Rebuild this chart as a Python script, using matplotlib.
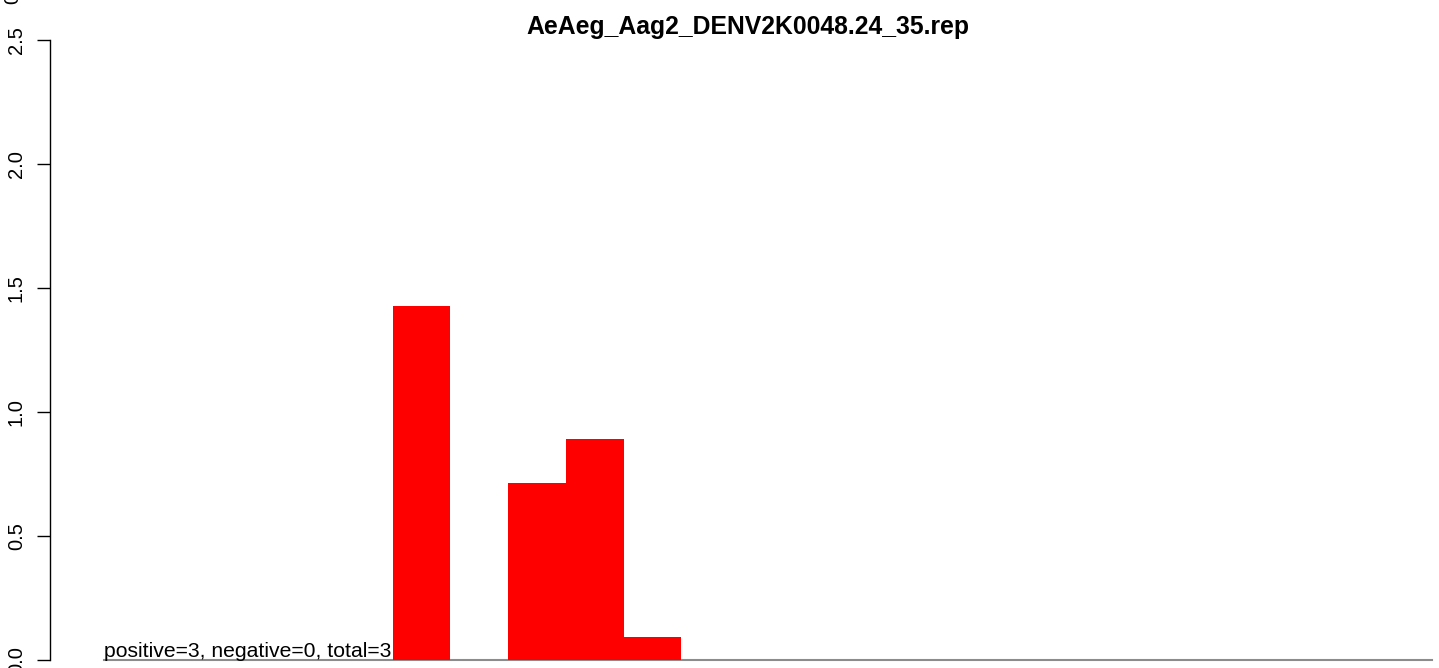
import numpy as np
import matplotlib
matplotlib.use("Agg")
import matplotlib.pyplot as plt

plt.rcParams['font.family'] = ['Liberation Sans', 'DejaVu Sans']

############## datos ##############
title = "AeAeg_Aag2_DENV2K0048.24_35.rep"
n_slots = 23
bar_idx = [5, 7, 8, 9]
bar_val = [1.427, 0.714, 0.891, 0.093]
y_ticks = [0.0, 0.5, 1.0, 1.5, 2.0, 2.5]
y_labels = ["0.0", "0.5", "1.0", "1.5", "2.0", "2.5"]
note = "positive=3, negative=0, total=3"

W, H = 1439, 668
fig = plt.figure(figsize=(W / 100, H / 100), dpi=100)

# eje: y=0 en px 660, 248 px por unidad; x=0 en px 104, 57.74 px por barra
ppu_y = 248.0
ppu_x = 57.74
x0_px = 104.0
left_px = 50.0
ax = fig.add_axes([left_px / W, 0, 1 - left_px / W, 1])
ax.set_xlim((left_px - x0_px) / ppu_x, (W - x0_px) / ppu_x)
ax.set_ylim(-(H - 660) / ppu_y, 660 / ppu_y)

vals = np.zeros(n_slots)
vals[bar_idx] = bar_val
ax.bar(np.arange(n_slots), vals, width=1.0, align='edge', color='red',
       linewidth=0, zorder=2)
ax.plot([0, n_slots], [0, 0], color='#8c8c8c', lw=1.5, zorder=1)

ax.text(0, -0.004, note, ha='left', va='bottom', fontsize=15.2, zorder=3)

for s in ['top', 'right', 'bottom']:
    ax.spines[s].set_visible(False)
ax.spines['left'].set_bounds(0, 2.5)
ax.spines['left'].set_linewidth(1.0)
ax.set_yticks(y_ticks)
ax.set_yticklabels(y_labels, rotation=90, va='center', fontsize=14.5)
ax.tick_params(axis='y', length=9.4, width=1.0, pad=8)
ax.set_xticks([])

fig.text(748 / W, 1 - 27 / H, title, ha='center', va='center',
         fontsize=17.8, fontweight='bold')
# etiqueta cortada del panel de arriba
fig.text(13 / W, 1 + 10 / H, "0.0", rotation=90, ha='center', va='center',
         fontsize=14.5)

fig.savefig("out.png", dpi=100)
